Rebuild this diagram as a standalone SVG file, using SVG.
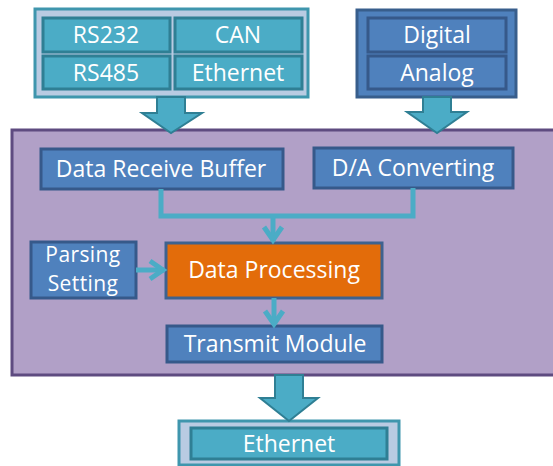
<svg xmlns="http://www.w3.org/2000/svg" width="553" height="466" viewBox="0 0 553 466">
<defs>
<style>
text{font-family:"Open Sans","Noto Sans",sans-serif;fill:#fff;font-size:23px;text-anchor:middle}
.sm{font-size:21px;letter-spacing:0.4px}
.outerT{fill:#b9cbe2;stroke:#3f96ad;stroke-width:3}
.teal{fill:#4bacc6;stroke:#2f7f94;stroke-width:3}
.blueO{fill:#4f81bd;stroke:#385e8c;stroke-width:3}
.blue{fill:#4f81bd;stroke:#36598a;stroke-width:3}
.orange{fill:#e36c0a;stroke:#3e628f;stroke-width:3}
.barrow{fill:#4bacc6;stroke:#2f7f94;stroke-width:2}
.conn{fill:none;stroke:#4bacc6;stroke-width:5}
</style>
<marker id="chev" markerUnits="userSpaceOnUse" markerWidth="24" markerHeight="24" viewBox="0 0 24 24" refX="20" refY="12" orient="auto">
<path d="M6,3 L19,12 L6,21" fill="none" stroke="#4bacc6" stroke-width="5" stroke-linejoin="miter"/>
</marker>
</defs>
<rect x="0" y="0" width="553" height="466" fill="#fff"/>

<g id="main">
<rect x="12" y="130" width="545" height="245" fill="#b1a0c7" stroke="#5e4b80" stroke-width="3"/>
</g>

<g id="comm">
<rect class="outerT" x="35" y="9" width="273" height="88"/>
<rect class="teal" x="43" y="18" width="127" height="34"/>
<rect class="teal" x="175" y="18" width="127" height="34"/>
<rect class="teal" x="43" y="56" width="127" height="33"/>
<rect class="teal" x="175" y="56" width="127" height="33"/>
<text x="106" y="43">RS232</text>
<text x="238" y="43">CAN</text>
<text x="106" y="81">RS485</text>
<text x="238" y="81">Ethernet</text>
</g>

<g id="io">
<rect class="blueO" x="357" y="10" width="159" height="87"/>
<rect class="blue" x="368" y="18" width="138" height="34"/>
<rect class="blue" x="368" y="56" width="138" height="33"/>
<text x="437" y="43">Digital</text>
<text x="437" y="81">Analog</text>
</g>

<g id="drb">
<rect class="blue" x="41" y="149" width="242" height="40"/>
<text x="161" y="177">Data Receive Buffer</text>
</g>
<g id="da">
<rect class="blue" x="314" y="148" width="199" height="40"/>
<text x="413" y="176">D/A Converting</text>
</g>
<g id="ps">
<rect class="blue" x="31" y="242" width="105" height="56"/>
<text class="sm" x="83" y="262">Parsing</text>
<text class="sm" x="83" y="291">Setting</text>
</g>
<g id="dp">
<rect class="orange" x="166" y="243" width="216" height="55"/>
<text x="274" y="278">Data Processing</text>
</g>
<g id="tm">
<rect class="blue" x="167" y="326" width="215" height="36"/>
<text x="275" y="352">Transmit Module</text>
</g>
<g id="eth">
<rect class="outerT" x="179" y="421" width="220" height="44"/>
<rect class="teal" x="191" y="428" width="196" height="31"/>
<text x="289" y="452">Ethernet</text>
</g>

<g id="connectors">
<polygon class="barrow" points="157,97 185,97 185,113 202,113 171,133 142,113 157,113"/>
<polygon class="barrow" points="423,97 451,97 451,112 467,112 437,133 407,112 423,112"/>
<polygon class="barrow" points="275,375 303,375 303,398 318,398 289,421 260,398 275,398"/>
<polyline class="conn" points="161,189 161,216 413,216 413,188"/>
<line class="conn" x1="273" y1="216" x2="273" y2="241" marker-end="url(#chev)"/>
<line class="conn" x1="136" y1="270" x2="164" y2="270" marker-end="url(#chev)"/>
<line class="conn" x1="274" y1="298" x2="274" y2="325" marker-end="url(#chev)"/>
</g>
</svg>
